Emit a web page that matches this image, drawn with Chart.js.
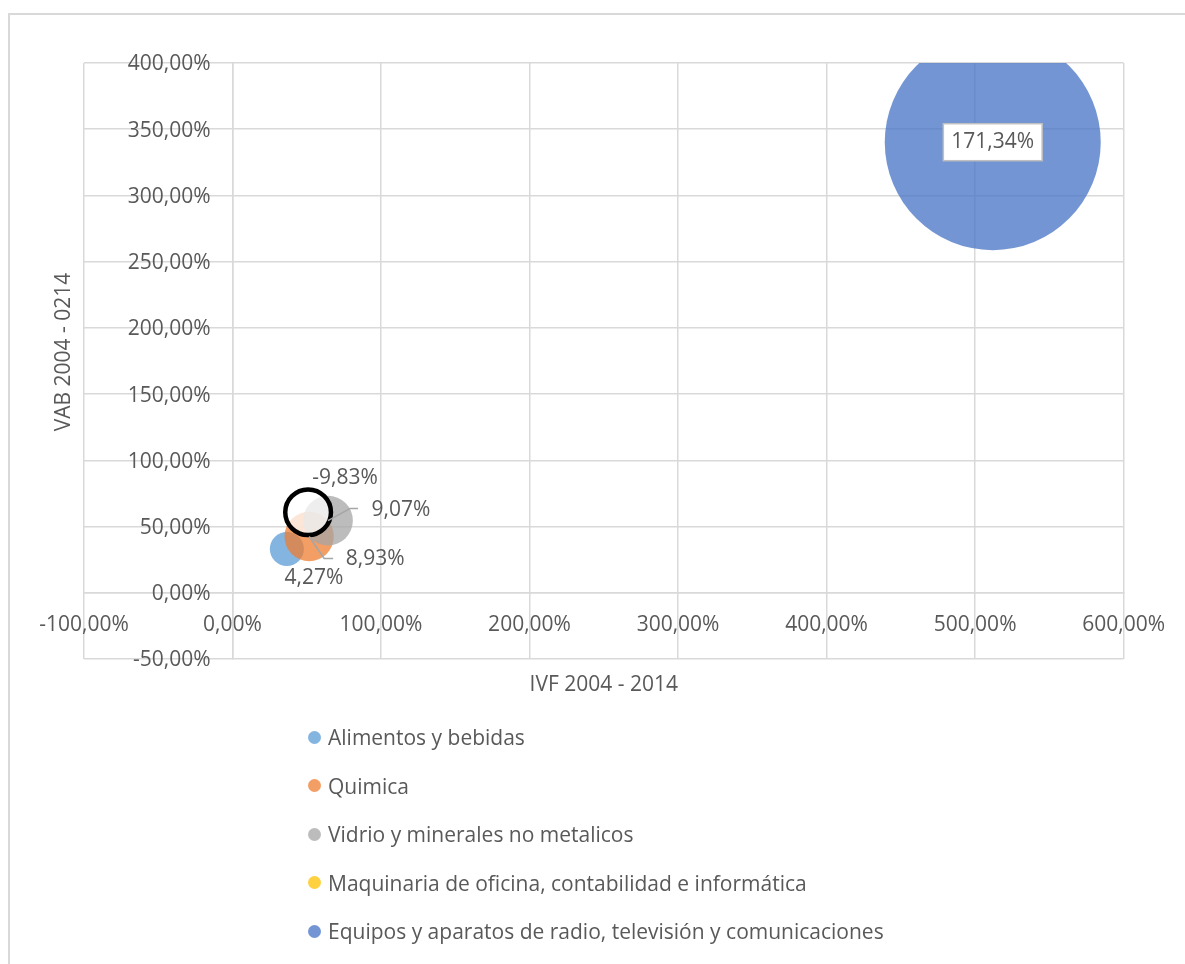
<!DOCTYPE html>
<html>
<head>
<meta charset="utf-8">
<script src="https://cdn.jsdelivr.net/npm/chart.js@4.4.1/dist/chart.umd.min.js"></script>
<style>
  body { margin: 0; background: #fff; }
  #wrap { position: relative; width: 1185px; height: 964px; overflow: hidden; }
  #frame { position: absolute; left: 8px; top: 13px; width: 1400px; height: 1200px; border: 2px solid #d9d9d9; box-sizing: border-box; }
  #chart-box { position: absolute; left: 0; top: 0; width: 1185px; height: 964px; }
  #legend { position: absolute; left: 308px; top: 713px; font-family: "Open Sans", sans-serif; font-size: 21px; color: #595959; }
  #legend .item { height: 48.5px; display: flex; align-items: center; white-space: nowrap; }
  #legend .dot { width: 13px; height: 13px; border-radius: 50%; margin-right: 7px; }
</style>
</head>
<body>
<div id="wrap">
  <div id="frame"></div>
  <div id="chart-box"><canvas id="chart"></canvas></div>
  <div id="legend"></div>
</div>
<script>
const seriesNames = [
  'Alimentos y bebidas',
  'Quimica',
  'Vidrio y minerales no metalicos',
  'Maquinaria de oficina, contabilidad e informática',
  'Equipos y aparatos de radio, televisión y comunicaciones'
];
const ivf = [36.6, 51.6, 64.3, 50.9, 511.9];       // IVF 2004 - 2014 (%)
const vab = [33.1, 42.5, 54.5, 60.8, 340.2];       // VAB 2004 - 0214 (%)
const bubbleSize = [4.27, 8.93, 9.07, -9.83, 171.34];
const seriesColors = ['#5B9BD5', '#ED7D31', '#A5A5A5', '#FFC000', '#4472C4'];

const xMin = -100, xMax = 600, xStep = 100;
const yMin = -50, yMax = 400, yStep = 50;

const textColor = '#595959';
const gridColor = '#d9d9d9';
const fontFamily = '"Open Sans", sans-serif';
const fontSize = 21;

// label placement relative to bubble centre (px), leader line points
const labelPlace = [
  { dx: 27, dy: 29 },
  { dx: 66, dy: 23, leader: [[0, 0], [15, 22], [24, 22]] },
  { dx: 73, dy: -11, leader: [[0, 0], [22, -12], [30, -12]] },
  { dx: 37, dy: -34 },
  { dx: 0, dy: 0, box: true }
];

function pct(v) {
  return v.toFixed(2).replace('.', ',') + '%';
}

function alpha(hex, a) {
  const n = parseInt(hex.slice(1), 16);
  return 'rgba(' + (n >> 16) + ',' + ((n >> 8) & 255) + ',' + (n & 255) + ',' + a + ')';
}

// bubble area proportional to size, like Excel
function bubbleRadius(s) {
  return 8.25 * Math.sqrt(Math.abs(s));
}

const datasets = seriesNames.map((name, i) => {
  const neg = bubbleSize[i] < 0;
  return {
    label: name,
    data: [{ x: ivf[i], y: vab[i], r: bubbleRadius(bubbleSize[i]) - (neg ? 3 : 0) }],
    backgroundColor: neg ? 'rgba(255,255,255,0.75)' : alpha(seriesColors[i], 0.75),
    borderColor: neg ? '#000000' : 'rgba(0,0,0,0)',
    borderWidth: neg ? 4.5 : 0,
    clip: 0,
    order: seriesNames.length - i
  };
});

const yLabelShift = {
  id: 'yLabelShift',
  beforeDraw(chart) {
    const items = chart.scales.y.getLabelItems();
    items.forEach(it => {
      if (!it._shifted) {
        it.options.translation[0] -= 22;
        it.options.translation[1] += 1.5;
        it._shifted = true;
      }
    });
  }
};

const bubbleLabels = {
  id: 'bubbleLabels',
  afterDatasetsDraw(chart) {
    const ctx = chart.ctx;
    ctx.save();
    ctx.font = fontSize + 'px ' + fontFamily;
    ctx.textAlign = 'center';
    ctx.textBaseline = 'middle';
    chart.data.datasets.forEach((ds, i) => {
      const el = chart.getDatasetMeta(i).data[0];
      const p = labelPlace[i];
      const txt = pct(bubbleSize[i]);
      if (p.leader) {
        ctx.strokeStyle = '#a6a6a6';
        ctx.lineWidth = 1.5;
        ctx.beginPath();
        p.leader.forEach((pt, k) => {
          if (k === 0) ctx.moveTo(el.x + pt[0], el.y + pt[1]);
          else ctx.lineTo(el.x + pt[0], el.y + pt[1]);
        });
        ctx.stroke();
      }
      const lx = el.x + p.dx, ly = el.y + p.dy;
      if (p.box) {
        const w = ctx.measureText(txt).width + 16;
        const h = 37;
        ctx.fillStyle = '#ffffff';
        ctx.fillRect(lx - w / 2, ly - h / 2, w, h);
        ctx.strokeStyle = '#bfbfbf';
        ctx.lineWidth = 1.5;
        ctx.strokeRect(lx - w / 2, ly - h / 2, w, h);
      }
      ctx.fillStyle = textColor;
      ctx.fillText(txt, lx, ly);
    });
    ctx.restore();
  },
  afterDraw(chart) {
    const ctx = chart.ctx;
    const a = chart.chartArea;
    ctx.save();
    ctx.font = fontSize + 'px ' + fontFamily;
    ctx.fillStyle = textColor;
    ctx.textAlign = 'center';
    ctx.textBaseline = 'middle';
    ctx.fillText('IVF 2004 - 2014', (a.left + a.right) / 2, a.bottom + 26);
    ctx.translate(a.left - 20, (a.top + a.bottom) / 2 - 9);
    ctx.rotate(-Math.PI / 2);
    ctx.fillText('VAB 2004 - 0214', 0, 0);
    ctx.restore();
  }
};

new Chart(document.getElementById('chart'), {
  type: 'bubble',
  data: { datasets },
  options: {
    responsive: true,
    maintainAspectRatio: false,
    animation: false,
    events: [],
    layout: { autoPadding: false, padding: { left: 84, top: 63, right: 59, bottom: 305 } },
    plugins: {
      legend: { display: false },
      tooltip: { enabled: false }
    },
    scales: {
      x: {
        type: 'linear',
        position: { y: 0 },
        min: xMin,
        max: xMax,
        ticks: {
          stepSize: xStep,
          padding: 20,
          maxRotation: 0,
          autoSkip: false,
          color: textColor,
          font: { family: fontFamily, size: fontSize },
          callback: v => pct(v)
        },
        grid: { color: gridColor, lineWidth: 1.5, drawTicks: false },
        border: { color: gridColor, width: 1.5 }
      },
      y: {
        type: 'linear',
        position: { x: 0 },
        min: yMin,
        max: yMax,
        ticks: {
          stepSize: yStep,
          autoSkip: false,
          color: textColor,
          font: { family: fontFamily, size: fontSize },
          callback: v => pct(v)
        },
        grid: { color: gridColor, lineWidth: 1.5, drawTicks: false },
        border: { color: gridColor, width: 1.5 }
      }
    }
  },
  plugins: [yLabelShift, bubbleLabels]
});

const legend = document.getElementById('legend');
seriesNames.forEach((name, i) => {
  const item = document.createElement('div');
  item.className = 'item';
  const dot = document.createElement('span');
  dot.className = 'dot';
  dot.style.background = alpha(seriesColors[i], 0.75);
  const label = document.createElement('span');
  label.textContent = name;
  item.appendChild(dot);
  item.appendChild(label);
  legend.appendChild(item);
});
</script>
</body>
</html>
